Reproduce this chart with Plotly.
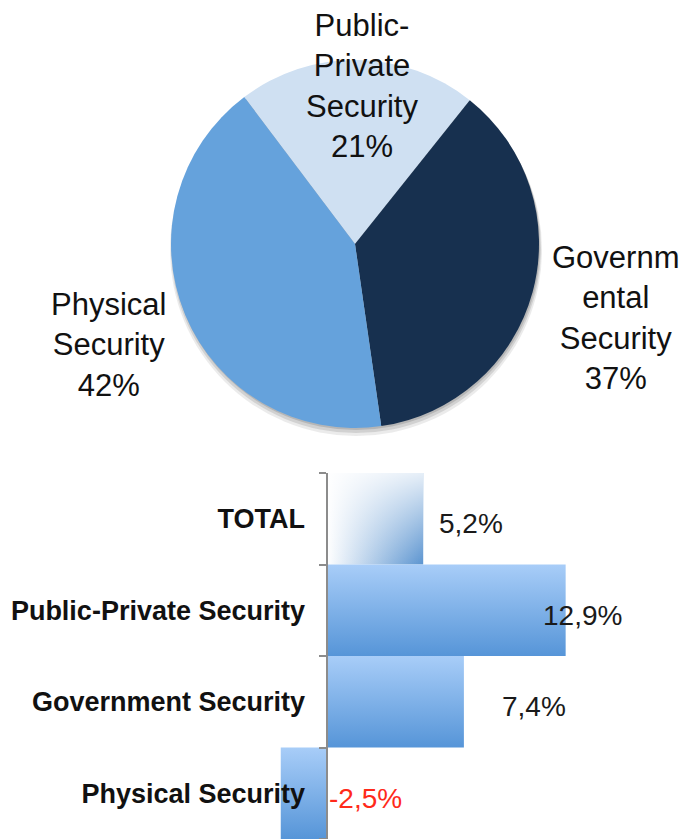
import plotly.graph_objects as go

# ---- data -------------------------------------------------------------
pie_labels = ["Public-<br>Private<br>Security", "Governm<br>ental<br>Security", "Physical<br>Security"]
pie_values = [21, 37, 42]
pie_colors = ["#cfe0f2", "#17304f", "#65a2dc"]

bar_categories = ["TOTAL", "Public-Private Security", "Government Security", "Physical Security"]
bar_values = [5.2, 12.9, 7.4, -2.5]

# ---- figure geometry (pixels) -----------------------------------------
W, H = 690, 839
FONT = "Liberation Sans, Arial, Helvetica, sans-serif"

fig = go.Figure()

# pie: centre and radius in pixels
pcx, pcy, pr = 355, 244, 184
fig.add_trace(go.Pie(
    labels=[l.replace("<br>", " ") for l in pie_labels],
    values=pie_values,
    sort=False,
    direction="clockwise",
    rotation=-37,
    marker=dict(colors=pie_colors, line=dict(width=0)),
    textinfo="none",
    hoverinfo="label+percent",
    showlegend=False,
    domain=dict(x=[(pcx - pr) / W, (pcx + pr) / W],
                y=[(H - (pcy + pr)) / H, (H - (pcy - pr)) / H]),
))

# soft drop shadow under the pie
for off, grow, op in [(6, 2, 0.10), (4, 1, 0.14), (2, 0, 0.18)]:
    fig.add_shape(type="circle", xref="paper", yref="paper", layer="below",
                  x0=(pcx - pr - grow + 1) / W, x1=(pcx + pr + grow + 1) / W,
                  y0=(H - (pcy + pr + grow + off)) / H, y1=(H - (pcy - pr - grow + off)) / H,
                  fillcolor=f"rgba(60,60,60,{op})", line=dict(width=0))

# pie labels (text centre positions in pixels)
pie_text_pos = [(362, 86), (615, 318), (108, 345)]
for lab, val, (tx, ty) in zip(pie_labels, pie_values, pie_text_pos):
    fig.add_annotation(xref="paper", yref="paper", x=tx / W, y=1 - ty / H,
                       xanchor="center", yanchor="middle", showarrow=False,
                       text=f"{lab}<br>{val}%", align="center",
                       font=dict(family=FONT, size=31, color="#111111"))

# ---- bar chart ---------------------------------------------------------
x0_px, px_per_unit = 327, 18.5
bar_top_px = 473
xr = [-x0_px / px_per_unit, (W - x0_px) / px_per_unit]
n = len(bar_categories)

for i, v in enumerate(bar_values):
    xs = [0, v, v, 0, 0]
    ys = [i - 0.5, i - 0.5, i + 0.5, i + 0.5, i - 0.5]
    if i == 0:
        # diagonal-looking fade: horizontal blend plus a whitening from the top
        fig.add_trace(go.Scatter(
            x=xs, y=ys, mode="lines", line=dict(width=0), fill="toself",
            fillgradient=dict(type="horizontal", start=0, stop=v,
                              colorscale=[[0, "#ffffff"], [1, "#5b94d0"]]),
            hoverinfo="skip", showlegend=False))
        fig.add_trace(go.Scatter(
            x=xs, y=ys, mode="lines", line=dict(width=0), fill="toself",
            fillgradient=dict(type="vertical", start=i - 0.5, stop=i + 0.5,
                              colorscale=[[0, "rgba(255,255,255,0.85)"],
                                          [1, "rgba(255,255,255,0)"]]),
            hovertemplate=f"{bar_categories[i]}: {v}%<extra></extra>", showlegend=False))
    else:
        fig.add_trace(go.Scatter(
            x=xs, y=ys, mode="lines", line=dict(width=0), fill="toself",
            fillgradient=dict(type="vertical", start=i - 0.5, stop=i + 0.5,
                              colorscale=[[0, "#a8cdf8"], [1, "#5695d8"]]),
            hovertemplate=f"{bar_categories[i]}: {v}%<extra></extra>", showlegend=False))

# value labels
label_shift = [14, -25, 36, 0]
for i, v in enumerate(bar_values):
    fig.add_annotation(x=max(v, 0), y=i, xref="x", yref="y", xanchor="left",
                       yanchor="middle", xshift=label_shift[i], yshift=-5,
                       showarrow=False, text=f"{v:.1f}%".replace(".", ","),
                       font=dict(family=FONT, size=28,
                                 color="#ff2a1a" if v < 0 else "#1a1a1a"))

ydom_top = (H - bar_top_px) / H
axis_pos = x0_px / W

fig.update_layout(
    width=W, height=H,
    margin=dict(l=0, r=0, t=0, b=0),
    paper_bgcolor="white", plot_bgcolor="white",
    xaxis=dict(range=xr, domain=[0, 1], visible=False, fixedrange=True),
    yaxis=dict(range=[n - 0.5, -0.5], domain=[0, ydom_top], anchor="free",
               position=axis_pos, tickmode="array",
               tickvals=[k - 0.5 for k in range(n + 1)],
               ticktext=[""] * (n + 1), ticks="outside", ticklen=7,
               tickcolor="#8c8c8c", tickwidth=1.5,
               showline=True, linecolor="#8c8c8c", linewidth=1.5,
               showgrid=False, zeroline=False),
    yaxis2=dict(range=[n - 0.5, -0.5], domain=[0, ydom_top], overlaying="y",
                anchor="free", position=axis_pos, side="left",
                tickmode="array", tickvals=list(range(n)), ticktext=bar_categories,
                ticks="", ticklabelstandoff=22, showline=False, showgrid=False,
                zeroline=False,
                tickfont=dict(family=FONT, size=27, color="#111111", weight="bold")),
)

# dummy trace so the label axis is drawn
fig.add_trace(go.Scatter(x=[None], y=[None], yaxis="y2", showlegend=False, hoverinfo="skip"))

fig.write_html("out.html")
